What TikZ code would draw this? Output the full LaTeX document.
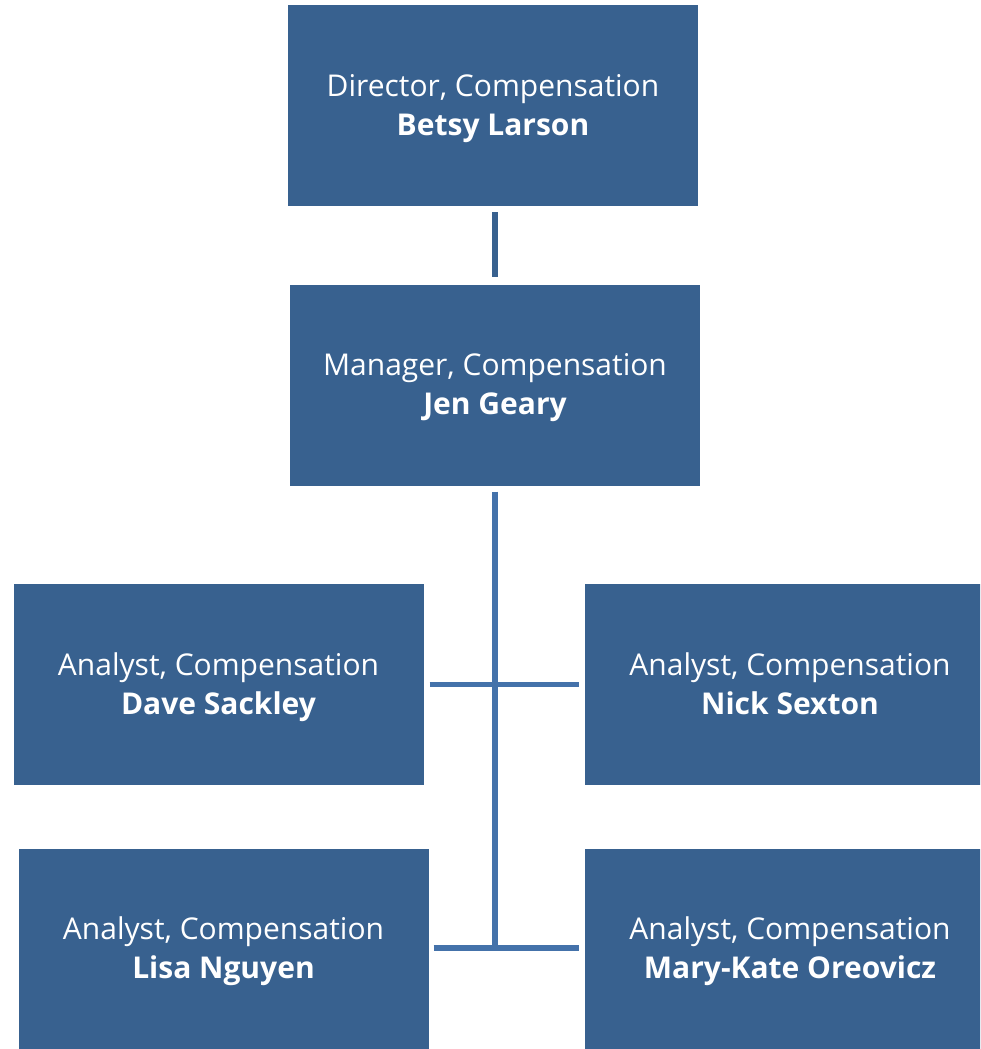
\documentclass[tikz,border=0pt]{standalone}
\usepackage{fontspec}
\setmainfont{Open Sans}
\usetikzlibrary{positioning}
\definecolor{boxblue}{HTML}{38618F}
\definecolor{linkblue}{HTML}{4472AA}
% title line over a bold name, with fixed line heights
\newcommand{\role}[2]{\rule{0pt}{28pt}#1\\\textbf{#2}\rule[-8pt]{0pt}{8pt}}

\begin{document}
\begin{tikzpicture}[
  x=1pt,y=-1pt,
  every node/.style={align=center},
  person/.style={fill=boxblue,text=white,minimum width=410pt,
                 minimum height=201pt,inner sep=0pt,
                 font=\fontsize{30}{39}\selectfont},
  link/.style={draw=linkblue,line width=5.5pt}
]
\useasboundingbox (0,0) rectangle (980,1049);
\clip (0,0) rectangle (980,1049);
% --- top: director and manager ---
\node[person] (dir) at (493,105.5) {\role{Director, Compensation}{Betsy Larson}};
\node[person] (mgr) at (495,385)   {\role{Manager, Compensation}{Jen Geary}};
% --- analysts ---
\node[person] (dave) at (218.5,684.5) {\role{Analyst, Compensation}{Dave Sackley}};
\node[person] (nick) at (790,684.5)   {\role{Analyst, Compensation}{Nick Sexton}};
\node[person] (lisa) at (223.5,949)   {\role{Analyst, Compensation}{Lisa Nguyen}};
\node[person] (mary) at (790,949)     {\role{Analyst, Compensation}{Mary-Kate Oreovicz}};
% --- connectors ---
\coordinate (spine) at (495,948);
\draw[link,draw=boxblue] ([yshift=-6pt]mgr.north |- dir.south) -- ([yshift=7pt]mgr.north);
\draw[link] ([yshift=-6pt]mgr.south) -- (spine);
\draw[link] ([xshift=6pt]dave.east) -- ([xshift=-6pt]nick.west);
\draw[link] ([xshift=5pt]lisa.east |- spine) -- ([xshift=-6pt]mary.west |- spine);
\end{tikzpicture}
\end{document}
